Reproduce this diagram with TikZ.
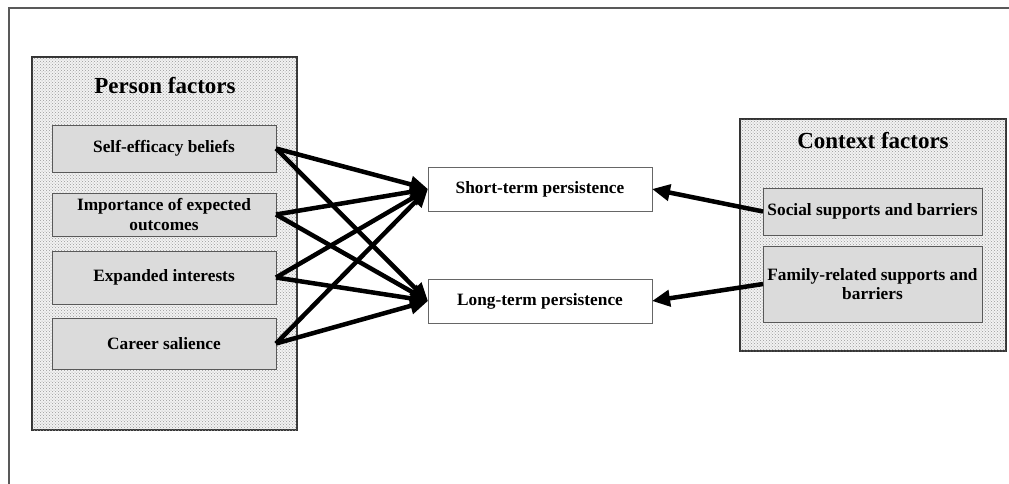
\documentclass[tikz,border=0pt]{standalone}
\usepackage{fontspec}
\setmainfont{Liberation Serif}
\usetikzlibrary{arrows.meta,patterns}
\begin{document}
\begin{tikzpicture}[x=1pt,y=-1pt,
  group/.style={draw=black!80,line width=1.2pt,fill=black!5,postaction={pattern=crosshatch dots,pattern color=black!40},inner sep=0pt,outer sep=0pt,anchor=center},
  item/.style={draw=black!65,line width=1pt,fill=black!14,inner sep=0pt,outer sep=0pt,minimum width=224pt,align=center,font=\fontsize{17.3}{19.5}\selectfont\bfseries},
  outcome/.style={draw=black!60,line width=1pt,fill=white,inner sep=0pt,outer sep=0pt,minimum width=224pt,minimum height=44pt,font=\fontsize{17.3}{19.5}\selectfont\bfseries},
  title/.style={font=\fontsize{23}{26}\selectfont\bfseries,inner sep=0pt},
  link/.style={line width=4.5pt,-{Triangle[length=18pt,width=16pt]}},
  frame/.style={draw=black!65,line width=1.8pt}]
\useasboundingbox (0,0) rectangle (1009,483);
\clip (0,0) rectangle (1009,483);
\draw[frame] (9,8) rectangle (1040,500);
% person group
\node[group,minimum width=265pt,minimum height=373pt] (person) at (164.5,243.5) {};
\node[title] (ptitle) at (165,86) {Person factors};
\node[item,minimum height=47pt] (self) at (164,148.5) {Self-efficacy beliefs};
\node[item,minimum height=43pt] (imp) at (164,214.5) {Importance of expected\\outcomes};
\node[item,minimum height=53pt] (exp) at (164,277.5) {Expanded interests};
\node[item,minimum height=51pt] (car) at (164,343.5) {Career salience};
% outcomes
\node[outcome] (short) at (540,189) {Short-term persistence};
\node[outcome] (long) at (540,301) {Long-term persistence};
% context group
\node[group,minimum width=266pt,minimum height=232pt] (context) at (873,235) {};
\node[title] (ctitle) at (873,141) {Context factors};
\node[item,minimum width=219pt,minimum height=47pt] (social) at (872.5,211.5) {Social supports and barriers};
\node[item,minimum width=219pt,minimum height=76pt] (family) at (872.5,284) {Family-related supports and\\barriers};
% links
\foreach \s in {self,imp,exp,car}{
  \draw[link] (\s.east) -- (short.west);
  \draw[link] (\s.east) -- (long.west);
}
\draw[link] (social.west) -- (short.east);
\draw[link] (family.west) -- (long.east);
\end{tikzpicture}
\end{document}
